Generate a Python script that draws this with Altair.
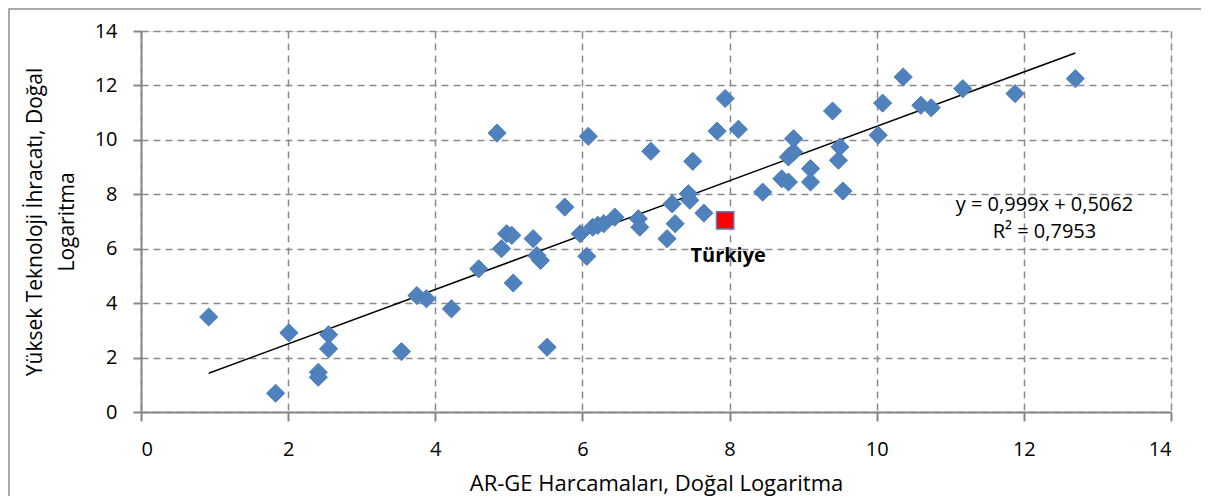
import altair as alt
import pandas as pd

# AR-GE harcamaları (ln) and yüksek teknoloji ihracatı (ln)
rd_x = [0.92, 1.83, 2.01, 2.41, 2.41, 2.55, 2.55, 3.54, 3.75, 3.88,
        4.22, 4.59, 4.84, 4.90, 4.97, 5.04, 5.06, 5.33, 5.38, 5.43,
        5.52, 5.76, 5.97, 6.06, 6.08, 6.14, 6.21, 6.29, 6.44, 6.76,
        6.78, 6.93, 7.15, 7.22, 7.26, 7.44, 7.46, 7.50, 7.65, 7.83,
        7.94, 8.12, 8.45, 8.71, 8.80, 8.80, 8.87, 8.87, 9.10, 9.10,
        9.40, 9.48, 9.50, 9.54, 10.02, 10.08, 10.36, 10.60, 10.74, 11.17,
        11.88, 12.70]
ht_y = [3.49, 0.69, 2.91, 1.46, 1.28, 2.84, 2.32, 2.22, 4.28, 4.16,
        3.79, 5.26, 10.25, 6.00, 6.55, 6.49, 4.74, 6.37, 5.75, 5.57,
        2.38, 7.53, 6.55, 5.72, 10.13, 6.79, 6.86, 6.92, 7.16, 7.10,
        6.79, 9.58, 6.37, 7.65, 6.92, 8.02, 7.78, 9.21, 7.31, 10.32,
        11.52, 10.39, 8.08, 8.57, 8.45, 9.37, 9.55, 10.04, 8.94, 8.45,
        11.06, 9.25, 9.74, 8.12, 10.17, 11.35, 12.31, 11.27, 11.18, 11.88,
        11.70, 12.25]

turkey_name = ["Türkiye"]
turkey_x = [7.94]
turkey_y = [7.04]

slope = 0.999
intercept = 0.5062
r_squared = 0.7953

axis_ticks = [0, 2, 4, 6, 8, 10, 12, 14]

x_title = "AR-GE Harcamaları, Doğal Logaritma"
y_title = ["Yüksek Teknoloji İhracatı, Doğal", "Logaritma"]

eq_line1 = "y = " + f"{slope:.3f}".replace(".", ",") + "x + " + f"{intercept:.4f}".replace(".", ",")
eq_line2 = "R² = " + f"{r_squared:.4f}".replace(".", ",")

df = pd.DataFrame({"x": rd_x, "y": ht_y})
tr = pd.DataFrame({"x": turkey_x, "y": turkey_y, "name": turkey_name})
x_ends = [min(rd_x), max(rd_x)]
trend = pd.DataFrame({"x": x_ends, "y": [slope * v + intercept for v in x_ends]})

FONT = "Open Sans"
AX = "#868686"

xscale = alt.Scale(domain=[0, 14], nice=False, zero=False)
yscale = alt.Scale(domain=[0, 14], nice=False, zero=False)

x_axis = alt.Axis(values=axis_ticks, format="d", grid=True, gridDash=[7, 5],
                  gridColor="#8a8a8a", gridWidth=1.5, domainColor=AX, domainWidth=2,
                  tickColor=AX, tickWidth=2, tickSize=9, labelFontSize=20,
                  labelColor="black", labelPadding=18, labelFont=FONT, title=x_title,
                  titleFont=FONT, titleFontSize=22, titleFontWeight="normal",
                  titleColor="black", titleY=71, titleBaseline="middle")
y_axis = alt.Axis(values=axis_ticks, format="d", grid=True, gridDash=[7, 5],
                  gridColor="#8a8a8a", gridWidth=1.5, domainColor=AX, domainWidth=2,
                  tickColor=AX, tickWidth=2, tickSize=8, labelFontSize=20,
                  labelColor="black", labelPadding=16, labelFont=FONT, title=y_title,
                  titleFont=FONT, titleFontSize=21, titleFontWeight="normal",
                  titleColor="black", titleX=-106, titleBaseline="middle",
                  titleLineHeight=32)

frame = alt.Chart(pd.DataFrame({"a": [0]})).mark_rect(
    filled=False, stroke="#8e8e8e", strokeWidth=1.5
).encode(x=alt.value(-132), x2=alt.value(1100), y=alt.value(-22), y2=alt.value(500))

points = alt.Chart(df).mark_point(
    shape="diamond", filled=True, size=330, fill="#4F81BD", stroke="#4A7EBB",
    strokeWidth=1, opacity=1
).encode(
    x=alt.X("x:Q", scale=xscale, axis=x_axis),
    y=alt.Y("y:Q", scale=yscale, axis=y_axis),
)

line = alt.Chart(trend).mark_line(color="black", strokeWidth=1.5).encode(
    x=alt.X("x:Q", scale=xscale), y=alt.Y("y:Q", scale=yscale)
)

tk = alt.Chart(tr).mark_point(
    shape="square", filled=True, size=300, fill="#FF0000", stroke="#4F81BD",
    strokeWidth=1.5, opacity=1
).encode(x=alt.X("x:Q", scale=xscale), y=alt.Y("y:Q", scale=yscale))

tk_label = alt.Chart(tr).mark_text(
    font=FONT, fontSize=20, fontWeight="bold", color="black", dx=3, dy=36
).encode(x=alt.X("x:Q", scale=xscale), y=alt.Y("y:Q", scale=yscale), text="name:N")

eq1 = alt.Chart(pd.DataFrame({"a": [0]})).mark_text(
    font=FONT, fontSize=20, color="black", text=eq_line1
).encode(x=alt.datum(12.28), y=alt.datum(7.6))
eq2 = alt.Chart(pd.DataFrame({"a": [0]})).mark_text(
    font=FONT, fontSize=20, color="black", text=eq_line2
).encode(x=alt.datum(12.28), y=alt.datum(6.62))

chart = alt.layer(frame, line, points, tk, tk_label, eq1, eq2).properties(
    width=1030, height=381,
    autosize=alt.AutoSizeParams(type="none"),
    padding={"left": 133, "top": 23, "right": 30, "bottom": 84},
).configure_view(stroke=None).configure(font=FONT)

chart.save("out.html", embed_options={"renderer": "svg", "actions": False})
